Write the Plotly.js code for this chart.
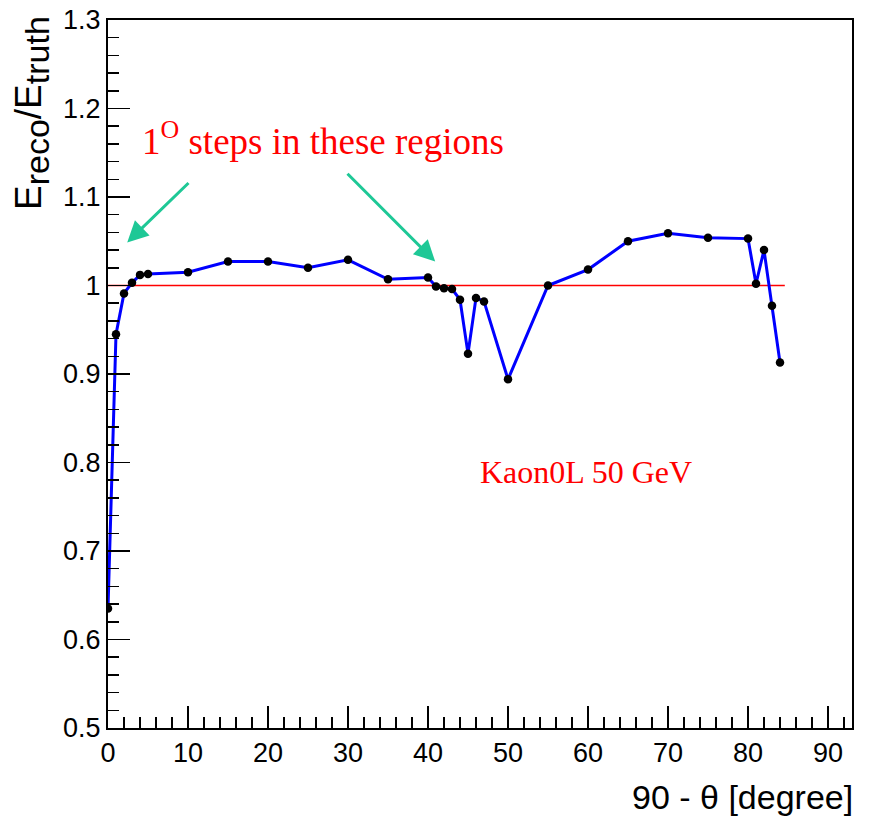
<!DOCTYPE html>
<html>
<head>
<meta charset="utf-8">
<script src="https://cdn.plot.ly/plotly-3.0.1.min.js"></script>
<style>html,body{margin:0;padding:0;background:#fff;}#chart{width:872px;height:827px;}</style>
</head>
<body>
<div id="chart"></div>
<script>
// angle values: 90 - theta [degree]
const angles = [0,1,2,3,4,5,10,15,20,25,30,35,40,41,42,43,44,45,46,47,50,55,60,65,70,75,80,81,82,83,84];
// E_reco / E_truth
const ratios = [0.635,0.945,0.991,1.003,1.012,1.013,1.015,1.027,1.027,1.020,1.029,1.007,1.009,0.999,0.997,0.996,0.984,0.923,0.986,0.982,0.894,1.000,1.018,1.050,1.059,1.054,1.053,1.002,1.040,0.977,0.913];
// reference line at 1
const refX = [0, 84.6];
const refY = [1, 1];
const xTicks = [0,10,20,30,40,50,60,70,80,90];
const yTicks = [0.5,0.6,0.7,0.8,0.9,1.0,1.1,1.2,1.3];

const traces = [
  {x: refX, y: refY, mode: 'lines', line: {color: 'rgb(255,0,0)', width: 1.5}, hoverinfo: 'skip'},
  {x: angles, y: ratios, mode: 'lines+markers',
   line: {color: 'rgb(0,0,255)', width: 3},
   marker: {color: 'black', size: 8.5}}
];

const axisFont = {family: 'Liberation Sans, Arial, sans-serif', size: 27, color: 'black'};
const layout = {
  width: 872, height: 827,
  margin: {l: 108, r: 20, t: 20, b: 99},
  paper_bgcolor: 'white', plot_bgcolor: 'white',
  showlegend: false,
  xaxis: {
    range: [0, 93], tickmode: 'array', tickvals: xTicks, ticktext: xTicks.map(String),
    ticks: 'inside', ticklen: 22, tickwidth: 1.5, tickcolor: 'black',
    minor: {dtick: 2, tick0: 0, ticks: 'inside', ticklen: 11, tickwidth: 1.5, tickcolor: 'black', showgrid: false},
    showline: true, linecolor: 'black', linewidth: 2, mirror: true,
    showgrid: false, zeroline: false, tickfont: axisFont
  },
  yaxis: {
    range: [0.5, 1.3], tickmode: 'array', tickvals: yTicks, ticktext: yTicks.map(v => String(+v.toFixed(1))),
    ticks: 'inside', ticklen: 22, tickwidth: 1.5, tickcolor: 'black',
    minor: {dtick: 0.02, tick0: 0.5, ticks: 'inside', ticklen: 11, tickwidth: 1.5, tickcolor: 'black', showgrid: false},
    showline: true, linecolor: 'black', linewidth: 2, mirror: true,
    showgrid: false, zeroline: false, tickfont: axisFont
  },
  annotations: [
    {xref: 'paper', yref: 'paper', x: -0.103, y: 1.009, xanchor: 'center', yanchor: 'top',
     text: 'E<sub><span style="font-size:34px">reco</span></sub>/E<sub><span style="font-size:34px">truth</span></sub>', textangle: -90, showarrow: false,
     font: {family: 'Liberation Sans, Arial, sans-serif', size: 37, color: 'black'}},
    {xref: 'paper', yref: 'paper', x: 1.004, y: -0.0975, xanchor: 'right', yanchor: 'middle',
     text: '90 - θ [degree]', showarrow: false,
     font: {family: 'Liberation Sans, Arial, sans-serif', size: 34, color: 'black'}},
    {xref: 'x', yref: 'y', x: 26.9, y: 1.166, xanchor: 'center', yanchor: 'middle',
     text: '1<sup>O</sup> steps in these regions', showarrow: false,
     font: {family: 'Liberation Serif, Times New Roman, serif', size: 37, color: 'rgb(255,0,0)'}},
    {xref: 'x', yref: 'y', x: 59.7, y: 0.789, xanchor: 'center', yanchor: 'middle',
     text: 'Kaon0L 50 GeV', showarrow: false,
     font: {family: 'Liberation Serif, Times New Roman, serif', size: 32, color: 'rgb(255,0,0)'}},
    {xref: 'x', yref: 'y', axref: 'x', ayref: 'y', x: 2.4, y: 1.0486, ax: 10.25, ay: 1.1175,
     text: '', showarrow: true, arrowhead: 2, arrowsize: 1.4, arrowwidth: 3, arrowcolor: 'rgb(30,200,150)'},
    {xref: 'x', yref: 'y', axref: 'x', ayref: 'y', x: 40.9, y: 1.027, ax: 29.75, ay: 1.128,
     text: '', showarrow: true, arrowhead: 2, arrowsize: 1.4, arrowwidth: 3, arrowcolor: 'rgb(30,200,150)'}
  ]
};

Plotly.newPlot('chart', traces, layout, {displayModeBar: false, staticPlot: true});
</script>
</body>
</html>
